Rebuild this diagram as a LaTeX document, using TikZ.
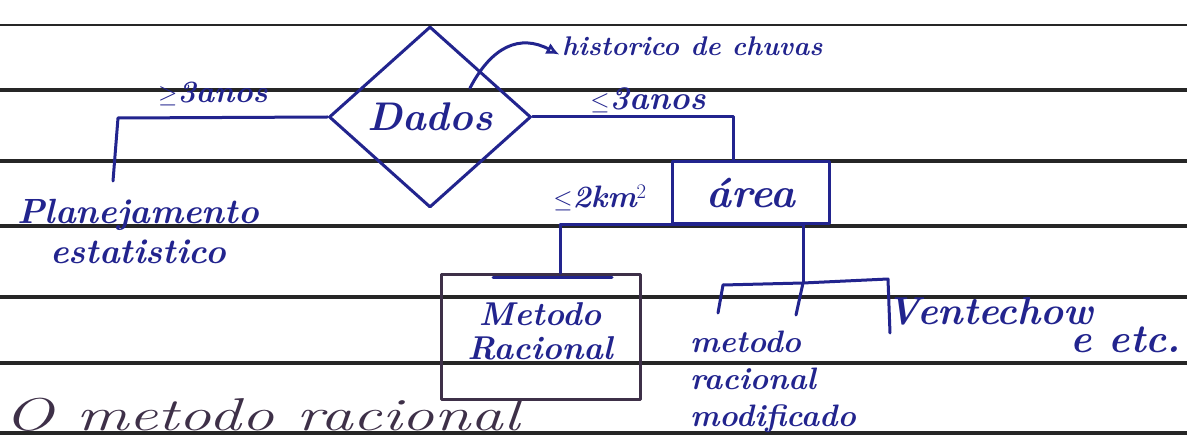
\documentclass[tikz,border=0pt]{standalone}
\usepackage{fontspec}
\usetikzlibrary{shapes.geometric,arrows.meta}
\definecolor{inkblue}{RGB}{34,36,142}
\definecolor{inkdark}{RGB}{62,48,72}
\definecolor{rulegray}{RGB}{38,38,38}
\newcommand{\hwsize}[1]{\fontsize{#1}{#1}\selectfont\bfseries\itshape}
\tikzset{
  ink/.style={draw=inkblue, line width=3pt, line cap=round, line join=round},
  darkink/.style={draw=inkdark, line width=2.8pt, line cap=round, line join=round},
  hw/.style={text=inkblue, inner sep=0pt},
  paperline/.style={draw=rulegray, line width=3.2pt},
}
\begin{document}
\begin{tikzpicture}[x=1pt,y=-1pt]
\useasboundingbox (0,0) rectangle (1187,446);
\fill[white] (0,0) rectangle (1187,446);

% ruled paper
\draw[draw=rulegray, line width=1.6pt] (0,25) -- (1187,25);
\foreach \y in {90,161,226,297,363,433}
  \draw[paperline] (0,\y) -- (1187,\y);

% decision diamond
\node[diamond, ink, hw, minimum width=202pt, minimum height=181pt,
      font=\hwsize{40}] (dados) at (430,117) {Dados};

% branch labels
\node[hw, font=\hwsize{31}] (gt) at (213,94) {$\geq$3anos};
\node[hw, font=\hwsize{33}] (lt) at (648,100) {$\leq$3anos};
\node[hw, font=\hwsize{27}, anchor=base west] (hist) at (562,56) {historico de chuvas};

% left result
\node[hw, font=\fontsize{35}{40}\selectfont\bfseries\itshape, align=center] (plan) at (138,231)
  {Planejamento\\estatistico};

% area box
\node[ink, hw, minimum width=157pt, minimum height=62pt, font=\hwsize{42}]
  (area) at (751,193) {área};
\node[hw, font=\hwsize{31}] (km) at (600,198) {$\leq$2km$^2$};

% rational method box
\node[darkink, hw, minimum width=199pt, minimum height=125pt] (rac) at (541,337) {};
\node[hw, font=\fontsize{33}{34}\selectfont\bfseries\itshape, align=center] (ractxt) at (540,331)
  {Metodo\\Racional};

% right-hand results
\node[hw, font=\fontsize{31}{37}\selectfont\bfseries\itshape, align=left, anchor=north west]
  (mod) at (690,331) {metodo\\racional\\modificado};
\node[hw, font=\hwsize{39}] (ven) at (990,311) {Ventechow};
\node[hw, font=\hwsize{40}] (etc) at (1126,340) {e etc.};

% closing sentence, written in the darker pen
\node[text=inkdark, inner sep=0pt, anchor=base west,
      font=\fontsize{46}{46}\selectfont\itshape] (frase) at (4,431)
  {\scalebox{1.42}[1]{O metodo racional}};

% connectors
\coordinate (lb) at (118,118);
\coordinate (le) at (113,181);
\draw[ink] (dados.west) -- (lb) -- (le);

\coordinate (rb) at (733,117);
\draw[ink] (dados.east) -- (rb) -- (rb |- area.north);

\coordinate (hs) at (470,88);
\draw[ink, -{Latex[open,length=13pt,width=12pt]}, shorten >=3pt]
  (hs) .. controls (492,46) and (520,34) .. (hist.base west);

\coordinate (al) at (560,225);
\coordinate (ar) at (803,225);
\draw[ink] (al) -- (ar);
\draw[ink] (al) -- (al |- rac.north);
\coordinate (rt1) at (493,278);
\coordinate (rt2) at (612,278);
\draw[ink] (rt1) -- (rt2);

\coordinate (j) at (803,283);
\coordinate (jl) at (723,285);
\coordinate (jr) at (888,279);
\coordinate (tl) at (718,313);
\coordinate (tr) at (796,315);
\coordinate (ve) at (890,333);
\draw[ink] (ar) -- (j);
\draw[ink] (jl) -- (j) -- (jr) -- (ve);
\draw[ink] (jl) -- (tl);
\draw[ink] (j) -- (tr);
\end{tikzpicture}
\end{document}
